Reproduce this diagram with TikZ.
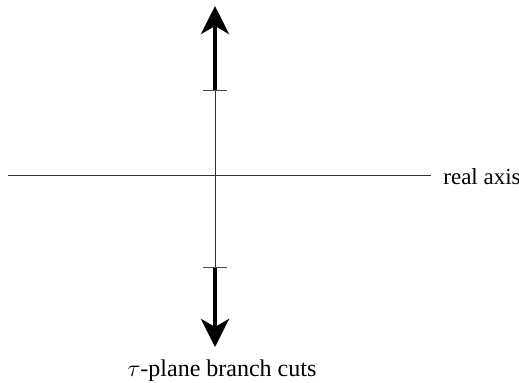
\documentclass[tikz,border=0pt]{standalone}
\usepackage{fontspec}
\setmainfont{Liberation Serif}
\usetikzlibrary{arrows.meta}

\begin{document}
\begin{tikzpicture}[
  x=0.5pt, y=-0.5pt,
  axisline/.style={line width=0.5pt, color=black!80},
  cut/.style={line width=2pt, -{Stealth[length=14pt, width=14pt, inset=4pt]}},
  tickmark/.style={line width=0.5pt, color=black!70},
  lbl/.style={font=\fontsize{11.5}{14}\selectfont, inner sep=0pt},
]
\useasboundingbox (0,0) rectangle (519,382);

% ===== AXES =====
\coordinate (xl) at (8,175);
\coordinate (xr) at (431,175);
\coordinate (cuta) at (215,90);
\coordinate (cutb) at (215,267);
\coordinate (tipa) at (215,6);
\coordinate (tipb) at (215,347);

\draw[axisline] (xl) -- (xr);
\draw[axisline] (cuta) -- (cutb);

% ===== BRANCH CUTS =====
\draw[cut] (cuta) -- (tipa);
\draw[cut] (cutb) -- (tipb);
\draw[tickmark] ([xshift=-6]cuta) -- ([xshift=6]cuta);
\draw[tickmark] ([xshift=-6]cutb) -- ([xshift=6]cutb);

% ===== LABELS =====
\node[lbl, anchor=west] (real) at (443,177) {real axis};
\node[lbl, font=\fontsize{12}{14}\selectfont] (title) at (222,371) {$\tau$-plane branch cuts};

\end{tikzpicture}
\end{document}
